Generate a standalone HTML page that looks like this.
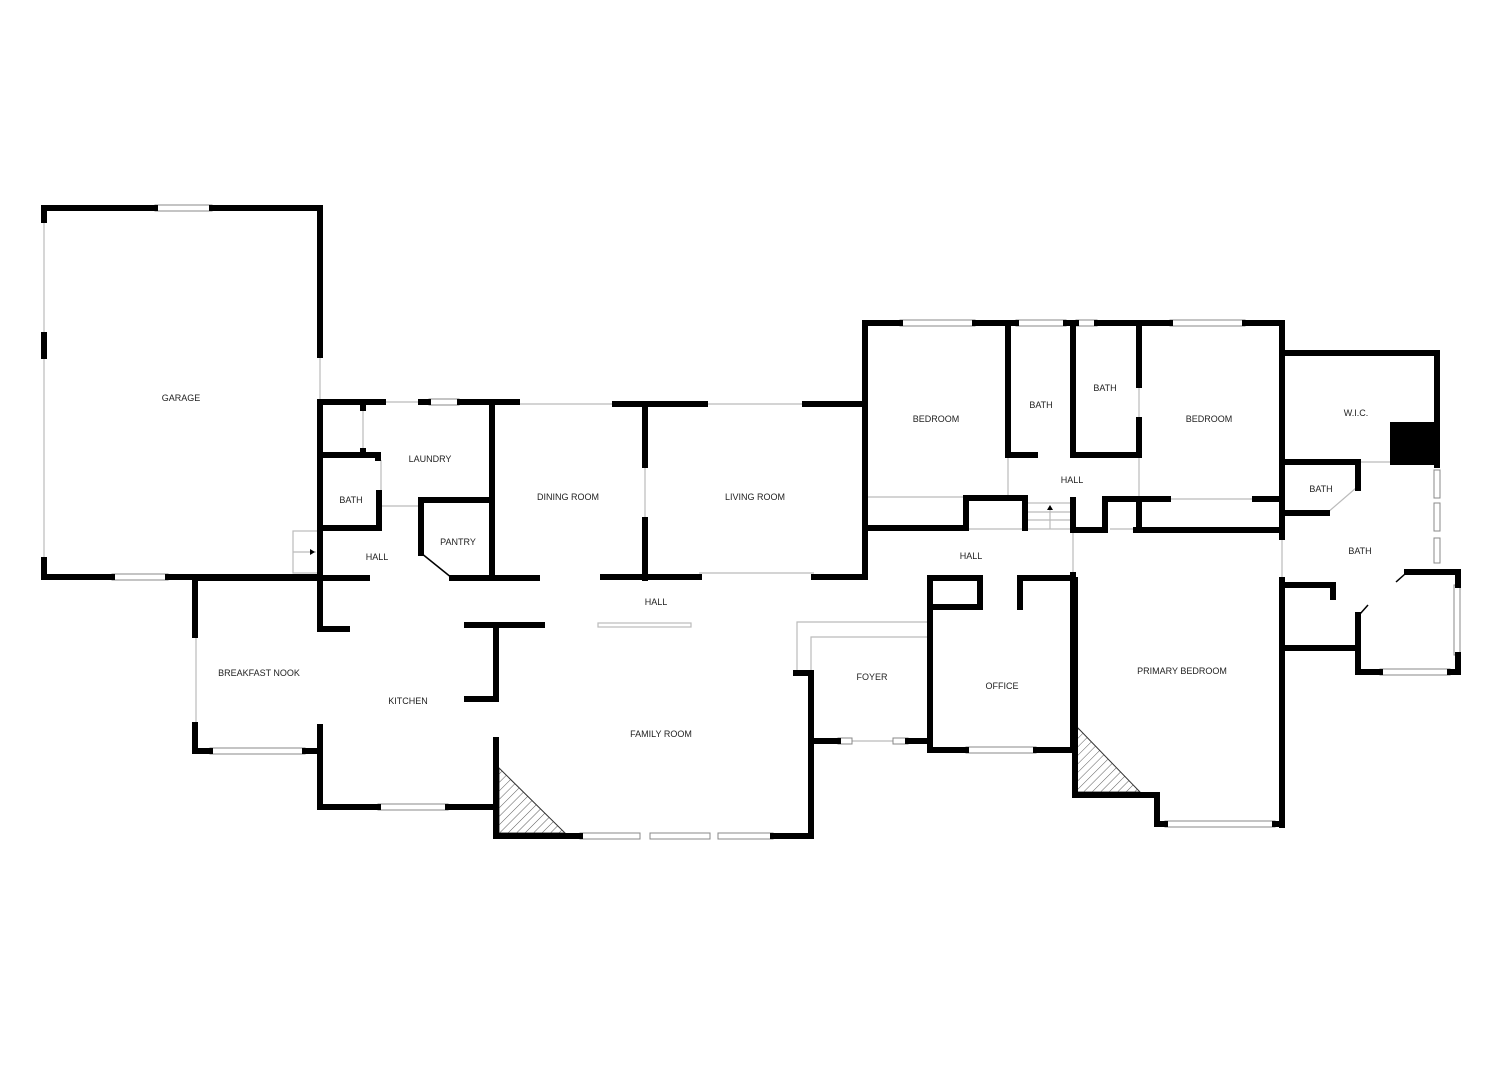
<!DOCTYPE html>
<html><head><meta charset="utf-8">
<style>
html,body{margin:0;padding:0;background:#fff;}
svg{display:block}
text{font-family:"Liberation Sans",sans-serif;font-size:9px;fill:#222;text-anchor:middle}
</style></head>
<body>
<svg width="1500" height="1066" viewBox="0 0 1500 1066" xmlns="http://www.w3.org/2000/svg">
<defs>
<pattern id="h" width="6" height="6" patternUnits="userSpaceOnUse" patternTransform="rotate(45)">
<line x1="0" y1="0" x2="0" y2="6" stroke="#333" stroke-width="0.8"/>
</pattern>
</defs>
<rect width="1500" height="1066" fill="#fff"/>

<!-- thin lines (openings / windows) -->
<g stroke="#bbb" stroke-width="1.2" fill="none">
<line x1="44" y1="220" x2="44" y2="335"/><line x1="44" y1="356" x2="44" y2="560"/>
<line x1="320" y1="355" x2="320" y2="400"/>
<line x1="383" y1="402" x2="517" y2="402"/><line x1="517" y1="404" x2="615" y2="404"/>
<line x1="705" y1="404" x2="805" y2="404"/>
<line x1="363" y1="408" x2="363" y2="452"/>
<line x1="381" y1="460" x2="381" y2="493"/>
<line x1="381" y1="506" x2="420" y2="506"/>
<line x1="196" y1="635" x2="196" y2="725"/>
<line x1="645" y1="465" x2="645" y2="520"/>
<line x1="699" y1="573" x2="814" y2="573"/>
<line x1="866" y1="497" x2="1008" y2="497"/>
<line x1="1008" y1="455" x2="1008" y2="497"/>
<line x1="1139" y1="455" x2="1139" y2="499"/><line x1="1139" y1="385" x2="1139" y2="420"/>
<line x1="1168" y1="499" x2="1255" y2="499"/>
<line x1="1073" y1="533" x2="1073" y2="575"/>
<line x1="1282" y1="537" x2="1282" y2="578"/>
<line x1="1358" y1="462" x2="1390" y2="462"/>
<line x1="1356" y1="488" x2="1327" y2="513"/>
<line x1="1110" y1="529" x2="1136" y2="529"/>
<line x1="966" y1="529" x2="1025" y2="529"/>
<line x1="852" y1="741" x2="893" y2="741"/>
<!-- foyer steps -->
<polyline points="797,670 797,622 930,622"/>
<polyline points="811,673 811,637 930,637"/>
<!-- garage stair -->
<rect x="293" y="531" width="25" height="42"/>
<line x1="293" y1="552" x2="316" y2="552"/>
<!-- hall stairs -->
<rect x="1027" y="503" width="46" height="26"/>
<line x1="1027" y1="512" x2="1073" y2="512"/><line x1="1027" y1="520" x2="1073" y2="520"/>
<line x1="1050" y1="510" x2="1050" y2="529"/>
<!-- shelf -->
<rect x="598" y="623" width="93" height="4"/>
</g>
<polygon points="315,552 310,549 310,555" fill="#000"/>
<polygon points="1050,505 1047,510 1053,510" fill="#000"/>

<!-- windows -->
<g fill="#fff" stroke="#888" stroke-width="1">
<rect x="155" y="205" width="57" height="6"/>
<rect x="112" y="574" width="56" height="6"/>
<rect x="429" y="399" width="30" height="6"/>
<rect x="210" y="748" width="95" height="6"/>
<rect x="378" y="804" width="70" height="6"/>
<rect x="580" y="833" width="60" height="6"/><rect x="650" y="833" width="60" height="6"/><rect x="718" y="833" width="55" height="6"/>
<rect x="838" y="738" width="14" height="6"/><rect x="893" y="738" width="15" height="6"/>
<rect x="966" y="747" width="70" height="6"/>
<rect x="900" y="320" width="75" height="6"/><rect x="1016" y="320" width="50" height="6"/>
<rect x="1076" y="320" width="21" height="6"/><rect x="1170" y="320" width="75" height="6"/>
<rect x="1434" y="470" width="6" height="28"/><rect x="1434" y="503" width="6" height="28"/><rect x="1434" y="538" width="6" height="25"/>
<rect x="1454" y="585" width="6" height="70"/>
<rect x="1380" y="669" width="70" height="6"/>
<rect x="1165" y="821" width="110" height="6"/>
</g>

<!-- fireplaces -->
<polygon points="499,768 499,833 565,833" fill="url(#h)" stroke="#333" stroke-width="1"/>
<polygon points="1077,727 1077,792 1140,792" fill="url(#h)" stroke="#333" stroke-width="1"/>

<!-- walls -->
<g stroke="#000" stroke-width="6" fill="none" stroke-linecap="square">
<!-- garage -->
<polyline points="44,220 44,208 155,208"/><line x1="212" y1="208" x2="320" y2="208"/>
<line x1="320" y1="208" x2="320" y2="355"/>
<line x1="44" y1="335" x2="44" y2="356"/>
<polyline points="44,560 44,577 112,577"/><line x1="168" y1="577" x2="320" y2="577"/>
<!-- laundry/bath -->
<line x1="320" y1="402" x2="320" y2="577"/>
<line x1="320" y1="402" x2="383" y2="402"/>
<line x1="421" y1="402" x2="428" y2="402"/>
<line x1="460" y1="402" x2="517" y2="402"/>
<line x1="615" y1="404" x2="705" y2="404"/>
<line x1="805" y1="404" x2="865" y2="404"/>
<line x1="363" y1="405" x2="363" y2="408"/><line x1="363" y1="451" x2="363" y2="454"/>
<polyline points="320,455 378,455 378,458"/>
<polyline points="379,493 379,528 320,528"/>
<line x1="320" y1="578" x2="367" y2="578"/>
<polyline points="320,580 320,629 347,629"/>
<!-- pantry -->
<line x1="492" y1="402" x2="492" y2="578"/>
<polyline points="492,500 421,500 421,553"/>
<line x1="452" y1="578" x2="537" y2="578"/>
<!-- dining/living -->
<line x1="645" y1="404" x2="645" y2="465"/>
<line x1="645" y1="520" x2="645" y2="578"/>
<line x1="603" y1="577" x2="699" y2="577"/>
<line x1="814" y1="577" x2="865" y2="577"/>
<line x1="865" y1="323" x2="865" y2="577"/>
<!-- breakfast -->
<polyline points="195,635 195,578 320,578"/>
<polyline points="195,725 195,751 210,751"/>
<line x1="305" y1="751" x2="320" y2="751"/>
<polyline points="320,727 320,807 378,807"/>
<line x1="448" y1="807" x2="496" y2="807"/>
<!-- island -->
<line x1="467" y1="625" x2="542" y2="625"/>
<polyline points="496,625 496,699 467,699"/>
<!-- family -->
<polyline points="496,740 496,836 580,836"/>
<line x1="773" y1="836" x2="811" y2="836"/>
<polyline points="811,836 811,673 796,673"/>
<line x1="811" y1="741" x2="838" y2="741"/>
<line x1="908" y1="741" x2="930" y2="741"/>
<!-- office -->
<polyline points="930,607 930,750 966,750"/>
<polyline points="1036,750 1073,750 1073,575"/>
<polyline points="930,607 930,578 980,578 980,607 930,607"/>
<polyline points="1020,607 1020,578 1073,578"/>
<!-- bedrooms -->
<polyline points="865,323 900,323"/><line x1="975" y1="323" x2="1016" y2="323"/>
<line x1="1066" y1="323" x2="1076" y2="323"/><line x1="1097" y1="323" x2="1170" y2="323"/>
<line x1="1245" y1="323" x2="1282" y2="323"/>
<line x1="1008" y1="323" x2="1008" y2="455"/>
<line x1="1073" y1="323" x2="1073" y2="455"/>
<line x1="1139" y1="323" x2="1139" y2="385"/><line x1="1139" y1="420" x2="1139" y2="455"/>
<line x1="1008" y1="455" x2="1035" y2="455"/>
<line x1="1073" y1="455" x2="1139" y2="455"/>
<polyline points="865,528 966,528 966,498 1025,498 1025,528"/>
<polyline points="1073,500 1073,530 1105,530 1105,499 1168,499"/>
<line x1="1139" y1="499" x2="1139" y2="530"/>
<line x1="1136" y1="530" x2="1282" y2="530"/>
<line x1="1255" y1="499" x2="1282" y2="499"/>
<line x1="1282" y1="323" x2="1282" y2="537"/>
<!-- wic / baths -->
<polyline points="1282,353 1437,353 1437,465"/>
<polyline points="1282,462 1358,462 1358,488"/>
<line x1="1282" y1="513" x2="1327" y2="513"/>
<polyline points="1407,572 1458,572 1458,585"/>
<line x1="1458" y1="655" x2="1458" y2="672"/>
<polyline points="1450,672 1458,672"/>
<polyline points="1380,672 1358,672 1358,615"/>
<line x1="1282" y1="648" x2="1358" y2="648"/>
<polyline points="1282,580 1282,825"/>
<polyline points="1282,585 1333,585 1333,597"/>
<!-- primary -->
<polyline points="1075,580 1075,795 1157,795 1157,824 1165,824"/>
<line x1="1275" y1="824" x2="1282" y2="824"/>
</g>
<rect x="1390" y="422" width="47" height="43" fill="#000"/>
<g stroke="#000" stroke-width="1.5" fill="none">
<line x1="1396" y1="582" x2="1405" y2="574"/>
<line x1="1360" y1="614" x2="1368" y2="605"/>
<line x1="421" y1="553" x2="452" y2="578"/>
</g>

<!-- labels -->
<text x="181" y="401">GARAGE</text>
<text x="430" y="462">LAUNDRY</text>
<text x="351" y="503">BATH</text>
<text x="458" y="545">PANTRY</text>
<text x="377" y="560">HALL</text>
<text x="568" y="500">DINING ROOM</text>
<text x="755" y="500">LIVING ROOM</text>
<text x="656" y="605">HALL</text>
<text x="259" y="676">BREAKFAST NOOK</text>
<text x="408" y="704">KITCHEN</text>
<text x="661" y="737">FAMILY ROOM</text>
<text x="872" y="680">FOYER</text>
<text x="1002" y="689">OFFICE</text>
<text x="971" y="559">HALL</text>
<text x="936" y="422">BEDROOM</text>
<text x="1041" y="408">BATH</text>
<text x="1105" y="391">BATH</text>
<text x="1072" y="483">HALL</text>
<text x="1209" y="422">BEDROOM</text>
<text x="1356" y="416">W.I.C.</text>
<text x="1321" y="492">BATH</text>
<text x="1360" y="554">BATH</text>
<text x="1182" y="674">PRIMARY BEDROOM</text>
</svg>
</body></html>
